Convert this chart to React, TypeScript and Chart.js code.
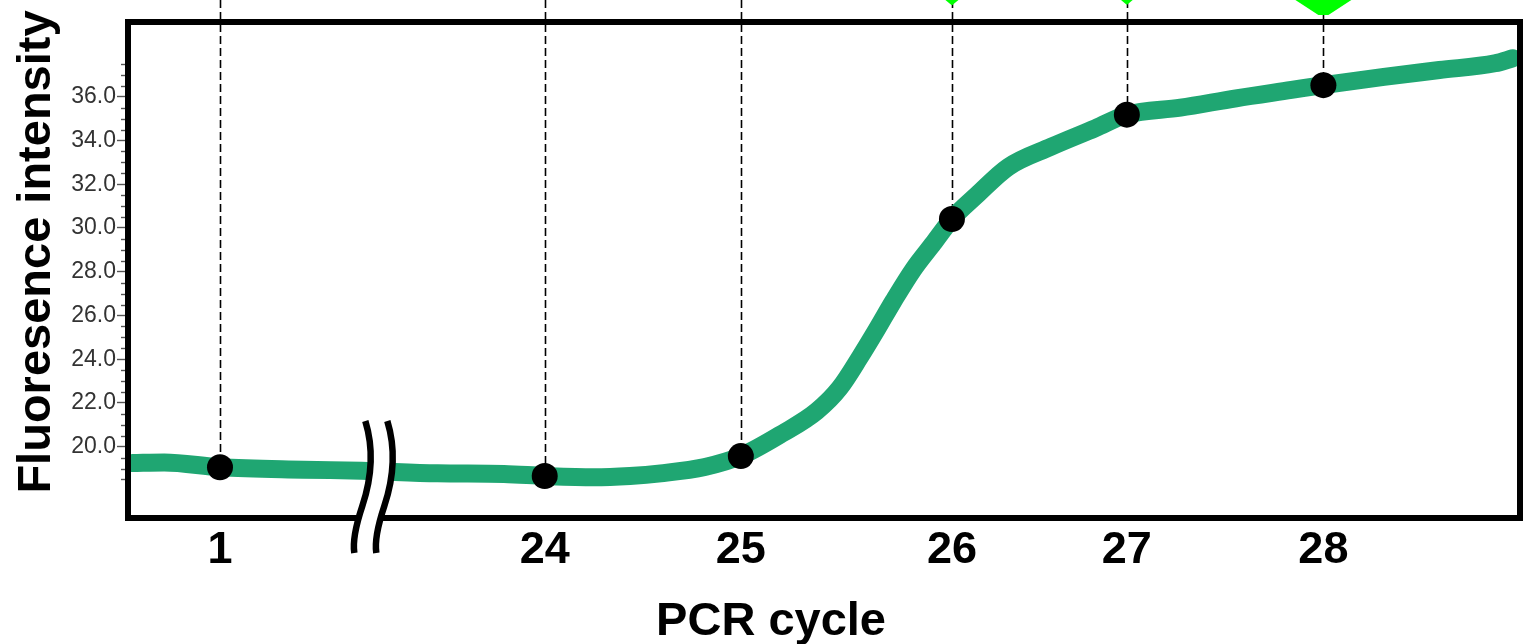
import React, { useEffect, useRef } from "react";
import { Chart, registerables } from "chart.js";

Chart.register(...registerables);

// ---- data ----
const cycleLabels = ["1", "24", "25", "26", "27", "28"];
// position of each labelled cycle along the (broken, non-uniform) trace axis, 0..100
const cyclePositions = [6.42, 29.85, 44.0, 59.23, 71.85, 86.03];
// fluorescence at each labelled cycle (black dots)
const cycleValues = [19.06, 18.66, 19.57, 30.41, 35.18, 36.53];
// cycles flagged with a green marker above the plot (index into cycleLabels) and its size
const flaggedCycles = [3, 4, 5];
const flagSizes = [1, 0.9, 3];

// amplification trace
const traceX = [
  0.1, 2.4, 6.42, 12.45, 16.64, 22.11, 26.91, 29.85, 33.39, 36.0, 38.22, 41.41, 44.0,
  47.04, 49.47, 51.15, 52.6, 53.8, 55.0, 56.44, 57.89, 59.23, 61.04, 63.3, 66.38,
  69.58, 71.85, 75.72, 79.73, 83.73, 86.03, 90.4, 94.4, 98.41, 99.7,
];
const traceY = [
  19.25, 19.28, 19.06, 18.95, 18.9, 18.78, 18.75, 18.66, 18.6, 18.66, 18.78, 19.07, 19.57,
  20.62, 21.62, 22.7, 24.1, 25.35, 26.65, 28.1, 29.3, 30.41, 31.51, 32.79, 33.71,
  34.56, 35.18, 35.5, 35.93, 36.31, 36.53, 36.91, 37.22, 37.53, 37.76,
];

const yTickValues = [20, 22, 24, 26, 28, 30, 32, 34, 36];
const yMin = 16.83;
const yMax = 39.28;
const axisBreakAt = 17.7;

const yTitle = "Fluoresence intensity";
const xTitle = "PCR cycle";

const W = 1523;
const H = 644;

const decorPlugin = {
  id: "decor",
  beforeDatasetsDraw(chart: any) {
    const { ctx } = chart;
    const xs = chart.scales.x;
    const ys = chart.scales.y;
    ctx.save();
    ctx.strokeStyle = "#000";
    ctx.lineWidth = 1.6;
    ctx.setLineDash([8, 4]);
    cyclePositions.forEach((p, i) => {
      const px = Math.round(xs.getPixelForValue(p)) + 0.5;
      const py = ys.getPixelForValue(cycleValues[i]);
      ctx.beginPath();
      ctx.moveTo(px, 0);
      ctx.lineTo(px, py);
      ctx.stroke();
    });
    ctx.restore();
  },
  afterDraw(chart: any) {
    const { ctx, chartArea } = chart;
    const xs = chart.scales.x;
    const ys = chart.scales.y;
    const { left, right, top, bottom } = chartArea;
    ctx.save();
    // minor y ticks
    ctx.strokeStyle = "#555";
    ctx.lineWidth = 1.4;
    for (let v = 18.5; v <= 38.01; v += 0.5) {
      if (Math.abs(v / 2 - Math.round(v / 2)) < 1e-6) continue;
      const py = Math.round(ys.getPixelForValue(v)) + 0.5;
      ctx.beginPath();
      ctx.moveTo(left - 10, py);
      ctx.lineTo(left - 5, py);
      ctx.stroke();
    }
    // frame
    ctx.strokeStyle = "#000";
    ctx.lineWidth = 6;
    ctx.strokeRect(left - 3, top - 3, right - left + 6, bottom - top + 5);

    // axis break symbol
    const bx = xs.getPixelForValue(axisBreakAt);
    const path = (dx: number) => {
      const p = new Path2D();
      p.moveTo(bx - 11 + dx, 421);
      p.bezierCurveTo(bx - 3 + dx, 447, bx - 4 + dx, 476, bx - 14 + dx, 506);
      p.bezierCurveTo(bx - 20 + dx, 524, bx - 24 + dx, 540, bx - 22 + dx, 553);
      return p;
    };
    ctx.fillStyle = "#fff";
    ctx.beginPath();
    ctx.moveTo(bx - 11, 421);
    ctx.bezierCurveTo(bx - 3, 447, bx - 4, 476, bx - 14, 506);
    ctx.bezierCurveTo(bx - 20, 524, bx - 24, 540, bx - 22, 553);
    ctx.lineTo(bx, 553);
    ctx.bezierCurveTo(bx - 2, 540, bx + 2, 524, bx + 8, 506);
    ctx.bezierCurveTo(bx + 18, 476, bx + 19, 447, bx + 11, 421);
    ctx.closePath();
    ctx.fill();
    ctx.strokeStyle = "#000";
    ctx.lineWidth = 6.5;
    ctx.lineCap = "butt";
    ctx.stroke(path(0));
    ctx.stroke(path(22));

    // green flags above the plot
    ctx.fillStyle = "#00FF00";
    flaggedCycles.forEach((ci, k) => {
      const s = flagSizes[k];
      const px = xs.getPixelForValue(cyclePositions[ci]);
      const half = s > 1.5 ? 28 : 6.5 * s;
      const depth = 5 * s;
      const tip = s > 1.5 ? 5 : 0.5;
      ctx.beginPath();
      ctx.moveTo(px - half, 0);
      ctx.lineTo(px + half, 0);
      ctx.lineTo(px + tip, depth);
      ctx.lineTo(px - tip, depth);
      ctx.closePath();
      ctx.fill();
    });

    // axis titles
    ctx.fillStyle = "#000";
    ctx.font = "bold 47px 'Liberation Sans', Arial, sans-serif";
    ctx.textAlign = "center";
    ctx.textBaseline = "alphabetic";
    ctx.fillText(xTitle, left + (right - left) * 0.4618, 635);
    ctx.translate(50, 252);
    ctx.rotate(-Math.PI / 2);
    ctx.fillText(yTitle, 0, 0);
    ctx.restore();
  },
};

export default function App() {
  const ref = useRef<HTMLCanvasElement | null>(null);
  useEffect(() => {
    if (!ref.current) return;
    const chart = new Chart(ref.current, {
      type: "line",
      data: {
        datasets: [
          {
            label: "trace",
            data: traceX.map((x, i) => ({ x, y: traceY[i] })),
            borderColor: "#1FA672",
            backgroundColor: "#1FA672",
            borderWidth: 18,
            borderCapStyle: "round",
            borderJoinStyle: "round",
            pointRadius: 0,
            cubicInterpolationMode: "monotone",
            fill: false,
            order: 2,
          },
          {
            label: "cycles",
            data: cyclePositions.map((x, i) => ({ x, y: cycleValues[i] })),
            showLine: false,
            pointRadius: 13,
            pointHoverRadius: 13,
            pointBackgroundColor: "#000",
            pointBorderWidth: 0,
            borderColor: "#000",
            clip: false,
            order: 1,
          },
        ],
      },
      options: {
        responsive: false,
        animation: false,
        events: [],
        layout: { autoPadding: false, padding: { top: 25, right: 6, left: 0, bottom: 0 } },
        plugins: { legend: { display: false }, tooltip: { enabled: false } },
        scales: {
          x: {
            type: "linear",
            min: 0,
            max: 100,
            border: { display: false },
            grid: { display: false, drawTicks: false },
            afterBuildTicks: (s: any) => {
              s.ticks = cyclePositions.map((v) => ({ value: v }));
            },
            afterFit: (s: any) => {
              s.height = H - 516;
              s.paddingLeft = 0;
              s.paddingRight = 0;
            },
            ticks: {
              autoSkip: false,
              maxRotation: 0,
              padding: 8,
              color: "#000",
              font: { family: "'Liberation Sans', Arial, sans-serif", size: 45, weight: "bold" },
              callback: (_v: any, i: number) => cycleLabels[i],
            },
          },
          y: {
            type: "linear",
            min: yMin,
            max: yMax,
            border: { display: false },
            grid: {
              display: true,
              drawOnChartArea: false,
              drawTicks: true,
              tickLength: 14,
              tickWidth: 1.4,
              tickColor: "#555",
              color: "#555",
            },
            afterBuildTicks: (s: any) => {
              s.ticks = yTickValues.map((v) => ({ value: v }));
            },
            afterFit: (s: any) => {
              s.width = 131;
              s.paddingTop = 0;
              s.paddingBottom = 0;
            },
            ticks: {
              padding: 1,
              color: "#333",
              font: { family: "'Liberation Sans', Arial, sans-serif", size: 23 },
              callback: (v: any) => Number(v).toFixed(1),
            },
          },
        },
      },
      plugins: [decorPlugin],
    } as any);
    return () => chart.destroy();
  }, []);
  return (
    <div style={{ position: "fixed", left: 0, top: 0, width: W, height: H, background: "#fff" }}>
      <canvas ref={ref} width={W} height={H} style={{ width: W, height: H, display: "block" }} />
    </div>
  );
}
